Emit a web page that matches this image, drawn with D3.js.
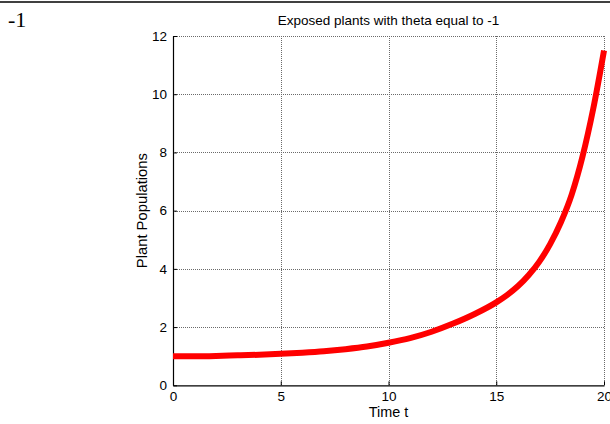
<!DOCTYPE html>
<html><head><meta charset="utf-8">
<script src="https://cdn.jsdelivr.net/npm/d3@7"></script>
<style>body{margin:0;background:#fff;} svg{display:block;}</style>
</head><body>
<script>
const timeT = [0,1,2,3,4,5,6,7,8,9,10,11,12,13,14,15,15.5,16,16.5,17,17.5,18,18.5,19,19.5,20];
const population = [1.00,1.00,1.01,1.03,1.05,1.08,1.12,1.17,1.24,1.33,1.46,1.62,1.84,2.12,2.45,2.85,3.10,3.40,3.78,4.25,4.85,5.60,6.55,7.85,9.50,11.5];
const xTicks = [0,5,10,15,20];
const yTicks = [0,2,4,6,8,10,12];
const titleText = "Exposed plants with theta equal to -1";
const xLabel = "Time t";
const yLabel = "Plant Populations";
const cornerText = "-1";

(function(){
const W = 610, H = 424;
const svg = d3.select("body").append("svg").attr("width", W).attr("height", H);
const mLeft = 173, mRight = 604, mTop = 36, mBottom = 385.3;
const x = d3.scaleLinear().domain([0,20]).range([mLeft,mRight]);
const y = d3.scaleLinear().domain([0,12]).range([mBottom,mTop]);
const font = "'Liberation Sans', Arial, sans-serif";

// document line at top
svg.append("line").attr("x1",0).attr("x2",W).attr("y1",2).attr("y2",2).attr("stroke","#000").attr("stroke-width",1.5);
svg.append("text").attr("x",8).attr("y",27).attr("font-family","'Liberation Serif', 'Times New Roman', serif")
  .attr("font-size",22).text(cornerText);

// grid
const g = svg.append("g");
g.selectAll(".gx").data(xTicks.filter(d=>d>0)).enter().append("line")
  .attr("x1",d=>Math.round(x(d))+0.5).attr("x2",d=>Math.round(x(d))+0.5).attr("y1",mTop).attr("y2",mBottom)
  .attr("stroke","#6a6a6a").attr("stroke-width",1).attr("stroke-dasharray","1,1");
g.selectAll(".gy").data(yTicks.filter(d=>d>0)).enter().append("line")
  .attr("y1",d=>Math.round(y(d))+0.5).attr("y2",d=>Math.round(y(d))+0.5).attr("x1",mLeft).attr("x2",mRight)
  .attr("stroke","#6a6a6a").attr("stroke-width",1).attr("stroke-dasharray","1,1");

// axes
const xAxis = d3.axisBottom(x).tickValues(xTicks).tickSizeInner(-4).tickSizeOuter(0).tickPadding(6);
const yAxis = d3.axisLeft(y).tickValues(yTicks).tickSizeInner(-4).tickSizeOuter(0).tickPadding(6);
const gx = svg.append("g").attr("transform",`translate(0,${mBottom})`).call(xAxis);
const gy = svg.append("g").attr("transform",`translate(${mLeft},0)`).call(yAxis);
[gx,gy].forEach(a=>{
  a.selectAll("text").attr("font-family",font).attr("font-size",13.5).attr("fill","#000");
  a.selectAll("line").attr("stroke","#000");
  a.select(".domain").attr("stroke","#000").attr("stroke-width",1.2);
});

// line
const data = timeT.map((t,i)=>({t, v: population[i]}));
svg.append("path").datum(data)
  .attr("d", d3.line().curve(d3.curveMonotoneX).x(d=>x(d.t)).y(d=>y(d.v)))
  .attr("fill","none").attr("stroke","#ff0000").attr("stroke-width",6).attr("stroke-linejoin","round");

// labels
svg.append("text").attr("x",(mLeft+mRight)/2).attr("y",25).attr("text-anchor","middle")
  .attr("font-family",font).attr("font-size",13.5).text(titleText);
svg.append("text").attr("x",(mLeft+mRight)/2).attr("y",417).attr("text-anchor","middle")
  .attr("font-family",font).attr("font-size",14.4).text(xLabel);
svg.append("text").attr("transform",`translate(147,${(mTop+mBottom)/2}) rotate(-90)`).attr("text-anchor","middle")
  .attr("font-family",font).attr("font-size",14.8).text(yLabel);
})();
</script>
</body></html>
